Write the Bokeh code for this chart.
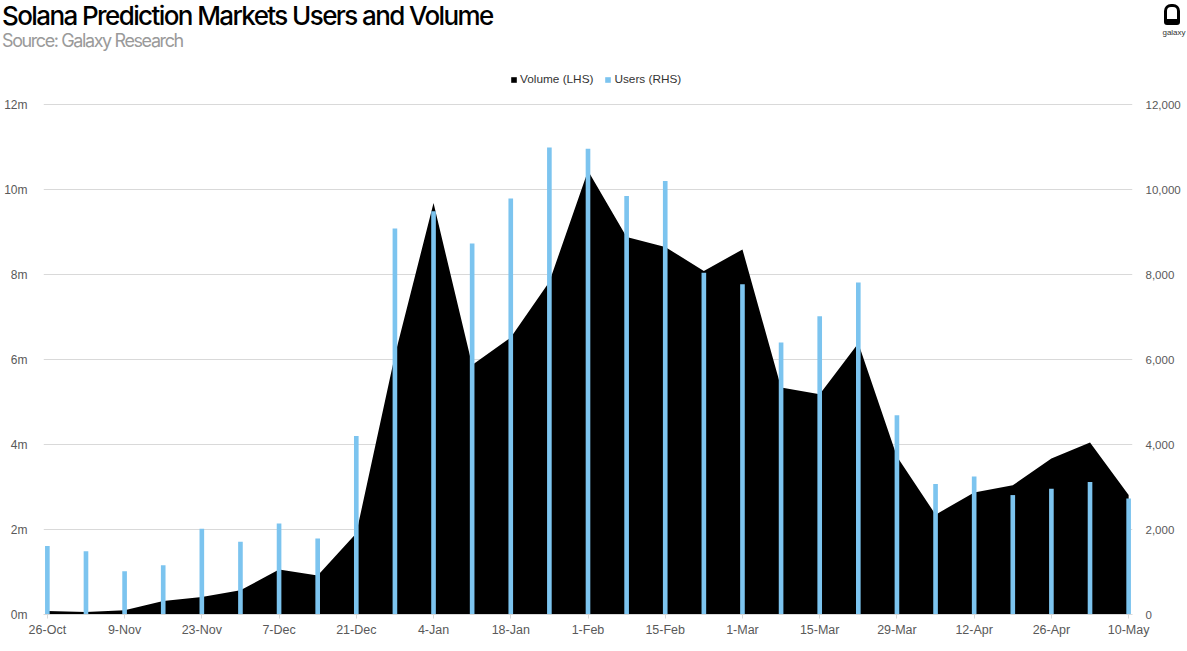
from bokeh.plotting import figure
from bokeh.layouts import column
from bokeh.models import (Range1d, LinearAxis, FixedTicker, NumeralTickFormatter,
                          Legend, LegendItem, Div)
from bokeh.embed import file_html
from bokeh.resources import INLINE

weeks = ["26-Oct", "2-Nov", "9-Nov", "16-Nov", "23-Nov", "30-Nov", "7-Dec", "14-Dec",
         "21-Dec", "28-Dec", "4-Jan", "11-Jan", "18-Jan", "25-Jan", "1-Feb", "8-Feb",
         "15-Feb", "22-Feb", "1-Mar", "8-Mar", "15-Mar", "22-Mar", "29-Mar", "5-Apr",
         "12-Apr", "19-Apr", "26-Apr", "3-May", "10-May"]
volume = [0.08e6, 0.06e6, 0.10e6, 0.32e6, 0.41e6, 0.57e6, 1.06e6, 0.92e6,
          1.91e6, 6.10e6, 9.68e6, 5.87e6, 6.52e6, 7.83e6, 10.44e6, 8.88e6,
          8.65e6, 8.08e6, 8.59e6, 5.34e6, 5.18e6, 6.38e6, 3.72e6, 2.35e6,
          2.87e6, 3.04e6, 3.67e6, 4.05e6, 2.81e6]
users = [1610, 1490, 1020, 1160, 2020, 1710, 2140, 1790,
         4200, 9080, 9490, 8730, 9790, 10990, 10960, 9850,
         10200, 8040, 7770, 6400, 7020, 7810, 4690, 3070,
         3250, 2810, 2960, 3120, 2730]
left_ticks = [0, 2e6, 4e6, 6e6, 8e6, 10e6, 12e6]
left_labels = ["0m", "2m", "4m", "6m", "8m", "10m", "12m"]
right_ticks = [0, 2000, 4000, 6000, 8000, 10000, 12000]
vol_max, usr_max = 12e6, 12000

title = "Solana Prediction Markets Users and Volume"
subtitle = "Source: Galaxy Research"
brand = "galaxy"
legend_labels = ["Volume (LHS)", "Users (RHS)"]

VOL_COLOR = "black"
USR_COLOR = "#7cc4ef"
AX_FONT = "Liberation Sans"
LBL_COLOR = "#595959"

xs = list(range(len(weeks)))

# ---------------- layout constants (pixels) ----------------
W, H = 1187, 651
HD = 60                       # header (title block) height
FRAME_L, FRAME_R = 43, 1132   # plot frame left/right
FRAME_B = 614                 # page y of the zero line
Y12 = 104                     # page y of the top gridline
MH = H - HD
frame_h = FRAME_B - HD
ext = frame_h / (FRAME_B - Y12)   # headroom above top gridline for the legend

# ---------------- header: title, subtitle, logo ----------------
header_html = f"""
<div style="position:relative;width:{W}px;height:{HD}px;overflow:hidden;margin:0;padding:0;">
  <div style="position:absolute;left:2px;top:0px;font-family:Inter,sans-serif;font-weight:500;
              font-size:26px;line-height:32px;letter-spacing:-1.6px;color:#000;white-space:nowrap;">{title}</div>
  <div style="position:absolute;left:2px;top:30px;font-family:Inter,sans-serif;font-weight:400;
              font-size:18px;line-height:22px;letter-spacing:-1.4px;color:#9a9a9a;white-space:nowrap;">{subtitle}</div>
  <div style="position:absolute;left:1164px;top:4px;width:16px;height:21px;box-sizing:border-box;
              border:3px solid #000;border-bottom-width:6px;border-radius:7px 7px 3px 3px;"></div>
  <div style="position:absolute;left:1160px;top:28px;width:28px;text-align:center;
              font-family:'Liberation Sans',sans-serif;font-size:8px;line-height:10px;color:#333;">{brand}</div>
</div>
"""
hdr = Div(text=header_html, width=W, height=HD, margin=(0, 0, 0, 0),
          styles={"margin": "0", "padding": "0"})

# ---------------- main chart ----------------
p = figure(width=W, height=MH, output_backend="svg", toolbar_location=None, title=None,
           x_range=Range1d(-0.1, len(weeks) - 1 + 0.1), y_range=Range1d(0, vol_max * ext),
           min_border_left=FRAME_L, min_border_right=W - FRAME_R,
           min_border_top=0, min_border_bottom=H - FRAME_B,
           outline_line_color=None, background_fill_color="white", border_fill_color="white")
p.extra_y_ranges = {"users": Range1d(0, usr_max * ext)}

area = p.varea(x=xs, y1=0, y2=volume, fill_color=VOL_COLOR)
bars = p.vbar(x=xs, top=users, width=0.12, y_range_name="users",
              fill_color=USR_COLOR, line_color=None)

xa = p.xaxis[0]
xa.ticker = FixedTicker(ticks=xs[::2])
xa.major_label_overrides = {i: weeks[i] for i in xs[::2]}
xa.axis_line_color = "#d9d9d9"
xa.major_tick_line_color = "#d9d9d9"
xa.major_tick_out = 4
xa.major_tick_in = 0
xa.minor_tick_line_color = None
xa.major_label_standoff = 4
xa.major_label_text_font = AX_FONT
xa.major_label_text_font_size = "12.5px"
xa.major_label_text_color = LBL_COLOR

ya = p.yaxis[0]
ya.ticker = FixedTicker(ticks=left_ticks)
ya.major_label_overrides = {t: l for t, l in zip(left_ticks, left_labels)}
ya.axis_line_color = None
ya.major_tick_line_color = None
ya.minor_tick_line_color = None
ya.major_label_standoff = 10
ya.major_label_text_font = AX_FONT
ya.major_label_text_font_size = "12px"
ya.major_label_text_color = LBL_COLOR

ra = LinearAxis(y_range_name="users", ticker=FixedTicker(ticks=right_ticks),
                formatter=NumeralTickFormatter(format="0,0"))
ra.axis_line_color = None
ra.major_tick_line_color = None
ra.minor_tick_line_color = None
ra.major_label_standoff = 7
ra.major_label_text_font = AX_FONT
ra.major_label_text_font_size = "11.5px"
ra.major_label_text_color = LBL_COLOR
p.add_layout(ra, "right")

p.xgrid.grid_line_color = None
p.ygrid.grid_line_color = "#d9d9d9"
p.ygrid.ticker = FixedTicker(ticks=left_ticks[1:])

legend = Legend(items=[LegendItem(label=legend_labels[0], renderers=[area]),
                       LegendItem(label=legend_labels[1], renderers=[bars])],
                orientation="horizontal", location=(510 - FRAME_L, FRAME_B - 86),
                glyph_width=7, glyph_height=7, label_standoff=3, spacing=11,
                padding=0, margin=0, border_line_color=None, background_fill_alpha=0,
                label_text_font=AX_FONT, label_text_font_size="11.8px",
                label_text_color="#333333", label_height=14)
p.add_layout(legend, "center")

layout = column(hdr, p, spacing=0)
open("out.html", "w").write(file_html(layout, INLINE))
